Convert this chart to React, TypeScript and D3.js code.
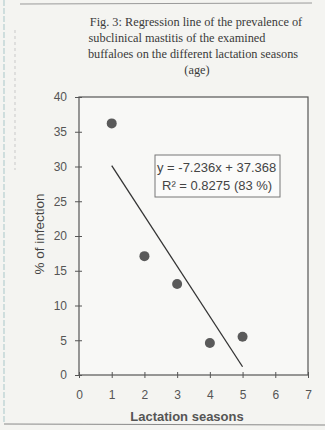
import React, { useEffect, useRef } from 'react';
import * as d3 from 'd3';

// lactation season vs % of infection
const seasons = [1, 2, 3, 4, 5];
const infection = [36.2, 17.1, 13.1, 4.6, 5.5];
const slope = -7.236;
const intercept = 37.368;
const xTicks = [0, 1, 2, 3, 4, 5, 6, 7];
const yTicks = [0, 5, 10, 15, 20, 25, 30, 35, 40];
const titleLines = [
  'Fig. 3: Regression line of the prevalence of',
  'subclinical mastitis of the examined',
  'buffaloes on the different lactation seasons',
  '(age)',
];
const titleCenters = [196, 177, 193, 197];
const eqLines = ['y = -7.236x + 37.368', 'R² = 0.8275 (83 %)'];

const App = () => {
  const ref = useRef<SVGSVGElement>(null);

  useEffect(() => {
    const W = 325;
    const H = 430;
    const svg = d3.select(ref.current).attr('width', W).attr('height', H);
    svg.selectAll('*').remove();

    // scanned paper background
    svg.append('rect').attr('width', W).attr('height', H).attr('fill', '#f4f4f1');

    // page frame bits from the scan
    svg.append('line').attr('x1', 20).attr('x2', 312).attr('y1', 4).attr('y2', 3)
      .attr('stroke', '#9a9a9a').attr('stroke-width', 1);
    svg.append('line').attr('x1', 4).attr('x2', 4).attr('y1', 0).attr('y2', 424)
      .attr('stroke', '#a9c7c9').attr('stroke-width', 1).attr('stroke-dasharray', '6,2');
    svg.append('line').attr('x1', 15).attr('x2', 15).attr('y1', 30).attr('y2', 170)
      .attr('stroke', '#c9c9c9').attr('stroke-width', 1).attr('stroke-dasharray', '3,3');
    svg.append('line').attr('x1', 4).attr('x2', 325).attr('y1', 424).attr('y2', 425)
      .attr('stroke', '#8a8a8a').attr('stroke-width', 1.2);

    // title
    svg.append('g').selectAll('text')
      .data(titleLines)
      .enter().append('text')
      .attr('x', (d, i) => titleCenters[i])
      .attr('y', (d, i) => 26 + i * 16)
      .attr('text-anchor', 'middle')
      .attr('font-family', "'Liberation Serif', serif")
      .attr('font-size', 12.3)
      .attr('fill', '#3a3a3a')
      .text(d => d);

    const left = 79, right = 308, top = 97, bottom = 375;
    const x = d3.scaleLinear().domain([0, 7]).range([left, right]);
    const y = d3.scaleLinear().domain([0, 40]).range([bottom, top]);

    // plot area
    svg.append('rect')
      .attr('x', left).attr('y', top)
      .attr('width', right - left).attr('height', bottom - top)
      .attr('fill', '#f8f8f6').attr('stroke', '#555').attr('stroke-width', 1.2);

    // y axis
    const gy = svg.append('g')
      .attr('transform', `translate(${left},0)`)
      .call(d3.axisLeft(y).tickValues(yTicks).tickSize(4).tickPadding(8).tickFormat(d3.format('d')));
    gy.select('.domain').remove();
    gy.selectAll('.tick line').attr('x1', -4).attr('x2', 3).attr('stroke', '#555');
    gy.selectAll('.tick text')
      .attr('font-family', "'Liberation Sans', Arial, sans-serif")
      .attr('font-size', 12).attr('fill', '#555');

    // x axis
    const gx = svg.append('g')
      .attr('transform', `translate(0,${bottom})`)
      .call(d3.axisBottom(x).tickValues(xTicks).tickSize(3).tickFormat(d3.format('d')));
    gx.select('.domain').remove();
    gx.selectAll('.tick line').attr('y1', -3).attr('y2', 3).attr('stroke', '#555');
    gx.selectAll('.tick text')
      .attr('y', 20).attr('dy', '0.35em')
      .attr('font-family', "'Liberation Sans', Arial, sans-serif")
      .attr('font-size', 12).attr('fill', '#555');

    // axis titles
    svg.append('text')
      .attr('transform', 'translate(44,234) rotate(-90)')
      .attr('text-anchor', 'middle')
      .attr('font-family', "'Liberation Sans', Arial, sans-serif")
      .attr('font-size', 13.5).attr('fill', '#444')
      .text('% of infection');
    svg.append('text')
      .attr('x', 187).attr('y', 421)
      .attr('text-anchor', 'middle')
      .attr('font-family', "'Liberation Sans', Arial, sans-serif")
      .attr('font-size', 13).attr('font-weight', 'bold').attr('fill', '#555')
      .text('Lactation seasons');

    // regression line
    const xs = [d3.min(seasons), d3.max(seasons)];
    svg.append('path')
      .datum(xs)
      .attr('d', d3.line<number>().x(d => x(d)).y(d => y(slope * d + intercept)))
      .attr('stroke', '#333').attr('stroke-width', 1.3).attr('fill', 'none');

    // points
    svg.append('g').selectAll('circle')
      .data(seasons.map((s, i) => ({ s, v: infection[i] })))
      .enter().append('circle')
      .attr('cx', d => x(d.s))
      .attr('cy', d => y(d.v))
      .attr('r', 5)
      .attr('fill', '#5a5a5a');

    // equation box
    const eq = svg.append('g');
    eq.append('rect')
      .attr('x', 155).attr('y', 155).attr('width', 125).attr('height', 42)
      .attr('fill', '#fbfbfa').attr('stroke', '#777').attr('stroke-width', 1);
    eq.selectAll('text')
      .data(eqLines)
      .enter().append('text')
      .attr('x', (d, i) => (i === 0 ? 157 : 162))
      .attr('y', (d, i) => 172 + i * 18)
      .attr('font-family', "'Liberation Sans', Arial, sans-serif")
      .attr('font-size', 13).attr('fill', '#444')
      .text(d => d);
  }, []);

  return <svg ref={ref} style={{ position: 'absolute', left: 0, top: 0 }}></svg>;
};

export default App;
